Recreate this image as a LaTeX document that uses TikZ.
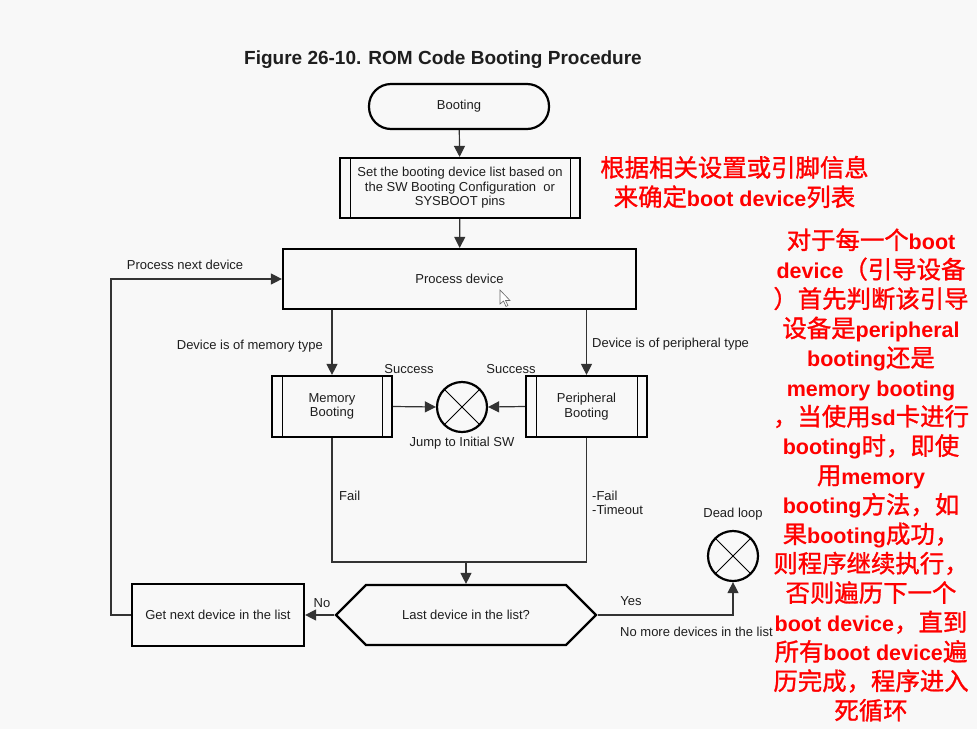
\documentclass[tikz,border=0pt]{standalone}
\usepackage{fontspec}
\setmainfont{Liberation Sans}
\newfontfamily\zhfont{Noto Sans CJK SC}[BoldFont={Noto Sans CJK SC}, BoldFeatures={FakeBold=1.2}]
\usetikzlibrary{arrows.meta,shapes.symbols}

\definecolor{bg}{RGB}{248,248,248}
\definecolor{ink}{RGB}{30,30,30}
\newcommand{\zh}[1]{{\zhfont\fontsize{24.4}{29.4}\selectfont #1}}

\begin{document}
\begin{tikzpicture}[x=1pt, y=-1pt,
  lbl/.style={font=\fontsize{13}{14.5}\selectfont, text=ink, inner sep=0pt, align=left},
  base/.style={lbl, draw=black, line width=2.2pt, align=center},
  terminal/.style={base, rounded corners=22pt, minimum width=180, minimum height=45},
  procbox/.style={base, minimum width=353, minimum height=60},
  subproc/.style={base,
    path picture={
      \draw[line width=0.9pt]
        ([xshift=10pt]path picture bounding box.north west) -- ([xshift=10pt]path picture bounding box.south west)
        ([xshift=-10pt]path picture bounding box.north east) -- ([xshift=-10pt]path picture bounding box.south east);
    }},
  decision/.style={base, shape=signal, signal to=west and east, signal pointer angle=90,
    minimum width=260, minimum height=60},
  junction/.style={circle, draw=black, line width=2.2pt, minimum size=50, inner sep=0pt,
    path picture={
      \draw[line width=0.8pt]
        (path picture bounding box.north west) -- (path picture bounding box.south east)
        (path picture bounding box.north east) -- (path picture bounding box.south west);
    }},
  conn/.style={draw=black!80, line width=1.2pt},
  arr/.style={conn, -{Triangle[length=11pt, width=11pt]}},
  note/.style={text=red, align=center, inner sep=0pt, font=\fontsize{21.5}{29.4}\selectfont\bfseries}
]

% ================= FRAME =================
\fill[bg] (0,0) rectangle (977,729);
\useasboundingbox (0,0) rectangle (977,729);

\node[font=\fontsize{19}{22}\selectfont\bfseries, text=ink] (title) at (443,60) {Figure 26-10. ROM Code Booting Procedure};

% ================= NODES =================
\node[terminal] (boot) at (459,106.5) {Booting};
\node[subproc, minimum width=240, minimum height=60] (setlist) at (460,188)
  {Set the booting device list based on\\the SW Booting Configuration\ \ or\\SYSBOOT pins};
\node[procbox] (proc) at (459.5,279) {Process device};

\node[subproc, minimum width=120, minimum height=61] (membt) at (332,406.5) {Memory\\Booting};
\node[subproc, minimum width=121, minimum height=61] (perbt) at (586.5,406.5) {Peripheral\\Booting};
\node[junction] (jump) at (462,407) {};

\node[decision] (last) at (466,615) {Last device in the list?};
\node[base, minimum width=172, minimum height=62] (getnext) at (218,615) {Get next device in the list};
\node[junction] (dead) at (733,556) {};

\coordinate (merge) at (466,562);
\coordinate (loopc) at (111,615);

% ================= ARROWS =================
\draw[arr] (boot) -- (setlist);
\draw[arr] (setlist) -- (proc);
\draw[arr] (proc.south -| membt.north) -- (membt.north);
\draw[arr] (proc.south -| perbt.north) -- (perbt.north);
\draw[arr] (membt.east) -- (jump.west);
\draw[arr] (perbt.west) -- (jump.east);
\draw[conn] (membt.south) |- (merge) -| (perbt.south);
\draw[arr] (merge) -- (last.north);
\draw[arr] (last.west) -- (getnext.east);
\draw[arr] (getnext.west) -- (loopc) |- (proc.west);
\draw[arr] (last.east) -| (dead.south);

% ================= LABELS =================
\node[lbl] (nextlbl) at (185,265) {Process next device};
\node[lbl, anchor=east] (memlbl) at (323,346) {Device is of memory type};
\node[lbl, anchor=west] (perlbl) at (592,344) {Device is of peripheral type};
\node[lbl] (succa) at (409,369) {Success};
\node[lbl] (succb) at (511,369) {Success};
\node[lbl] (jumplbl) at (462,443) {Jump to Initial SW};
\node[lbl, anchor=west] (faila) at (339,496) {Fail};
\node[lbl, anchor=west] (failb) at (592,503) {-Fail\\-Timeout};
\node[lbl] (deadlbl) at (733,514) {Dead loop};
\node[lbl] (yeslbl) at (631,601) {Yes};
\node[lbl, anchor=west] (nomore) at (620,632) {No more devices in the list};
\node[lbl] (nolbl) at (322,603) {No};

% cursor
\draw[black!60, fill=white, line width=0.6pt]
  (500,290) -- (500,304) -- (503.5,301) -- (506,306.5) -- (508,305.5) -- (505.5,300.5) -- (510,300.5) -- cycle;

% ================= NOTES =================
\node[note] (listnote) at (734.5,182)
  {\zh{根据相关设置或引脚信息}\\\zh{来确定}boot device\zh{列表}};

\node[note] (bootnote) at (871,475)
  {\zh{对于每一个}boot\\
   device\zh{（引导设备}\\
   \zh{）首先判断该引导}\\
   \zh{设备是}peripheral\\
   booting\zh{还是}\\
   memory booting\\
   \zh{，当使用}sd\zh{卡进行}\\
   booting\zh{时，即使}\\
   \zh{用}memory\\
   booting\zh{方法，如}\\
   \zh{果}booting\zh{成功，}\\
   \zh{则程序继续执行，}\\
   \zh{否则遍历下一个}\\
   boot device\zh{，直到}\\
   \zh{所有}boot device\zh{遍}\\
   \zh{历完成，程序进入}\\
   \zh{死循环}};

\end{tikzpicture}
\end{document}
